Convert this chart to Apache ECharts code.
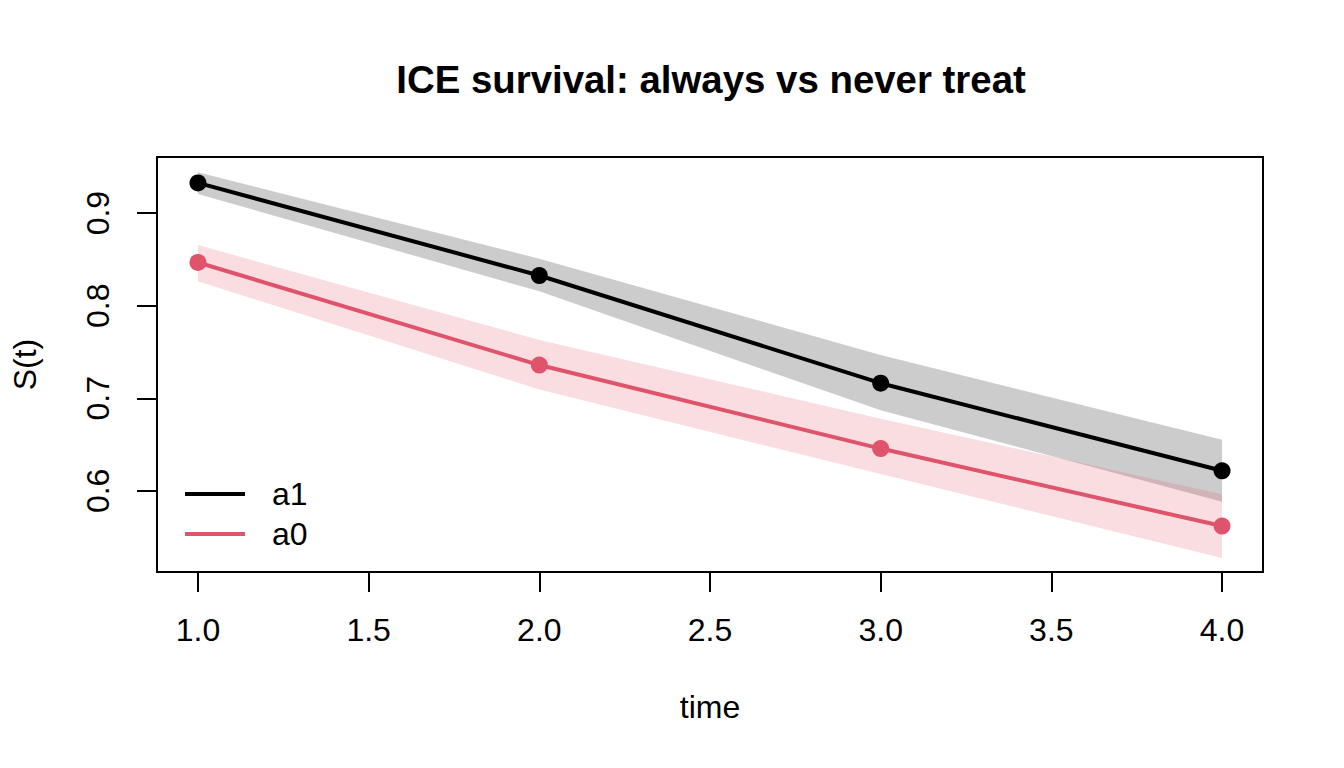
<!DOCTYPE html>
<html>
<head>
<meta charset="utf-8">
<style>
  html, body { margin: 0; padding: 0; background: #fff; }
  #chart { width: 1344px; height: 768px; }
</style>
<script src="https://cdn.jsdelivr.net/npm/echarts@6/dist/echarts.min.js"></script>
</head>
<body>
<div id="chart"></div>
<script>
// time points and survival estimates
const times = [1, 2, 3, 4]
const a1 = [0.9326, 0.8326, 0.7163, 0.6217]
const a1Lower = [0.9207, 0.8155, 0.687, 0.5884]
const a1Upper = [0.9442, 0.8508, 0.7467, 0.6551]
const a0 = [0.8467, 0.7359, 0.6457, 0.562]
const a0Lower = [0.8264, 0.7095, 0.6182, 0.5275]
const a0Upper = [0.8655, 0.763, 0.678, 0.5964]
const xTicks = [1, 1.5, 2, 2.5, 3, 3.5, 4]
const yTicks = [0.6, 0.7, 0.8, 0.9]

const font = 'Liberation Sans'
const red = '#DF536B'

const chart = echarts.init(document.getElementById('chart'), null, { renderer: 'svg' })

// one polygon per band, points mapped through the axes
const bandSeries = (name, lower, upper, fill) => ({
  name: name,
  type: 'custom',
  silent: true,
  z: 1,
  data: times.map((t, i) => [t, lower[i], upper[i]]),
  encode: { x: 0, y: [1, 2] },
  renderItem: (params, api) => {
    if (params.dataIndex !== 0) return null
    const top = times.map((t, i) => api.coord([t, upper[i]]))
    const bottom = times.map((t, i) => api.coord([t, lower[i]])).reverse()
    return {
      type: 'polygon',
      shape: { points: top.concat(bottom) },
      style: { fill: fill, stroke: null }
    }
  }
})

const lineSeries = (name, values, color) => ({
  name: name,
  type: 'line',
  z: 3,
  data: times.map((t, i) => [t, values[i]]),
  symbol: 'circle',
  symbolSize: 17,
  showSymbol: true,
  lineStyle: { color: color, width: 4 },
  itemStyle: { color: color },
  emphasis: { disabled: true }
})

const option = {
  animation: false,
  backgroundColor: '#fff',
  textStyle: { fontFamily: font, color: '#000' },
  title: {
    text: 'ICE survival: always vs never treat',
    left: 706,
    top: 55,
    textAlign: 'center',
    textStyle: { fontFamily: font, fontSize: 38.4, fontWeight: 'bold', color: '#000' }
  },
  grid: {
    left: 157, top: 157, width: 1106, height: 415,
    show: true, borderColor: '#000', borderWidth: 2, backgroundColor: 'transparent'
  },
  legend: {
    orient: 'vertical',
    left: 180,
    top: 469,
    itemWidth: 60,
    itemHeight: 4,
    itemGap: 0,
    icon: 'rect',
    data: [
      { name: 'a1', itemStyle: { color: '#000' } },
      { name: 'a0', itemStyle: { color: red } }
    ],
    textStyle: { fontFamily: font, fontSize: 32, color: '#000', lineHeight: 40, padding: [0, 0, 0, 22] }
  },
  xAxis: {
    type: 'value',
    min: 0.88,
    max: 4.12,
    name: 'time',
    nameLocation: 'middle',
    nameGap: 119,
    nameTextStyle: { fontFamily: font, fontSize: 32, color: '#000' },
    axisLine: { show: false },
    axisTick: { show: true, customValues: xTicks, length: 20, lineStyle: { color: '#000', width: 2 } },
    axisLabel: {
      customValues: xTicks,
      margin: 42,
      fontFamily: font, fontSize: 32, color: '#000',
      formatter: v => v.toFixed(1)
    },
    splitLine: { show: false }
  },
  yAxis: {
    type: 'value',
    min: 0.5124,
    max: 0.9606,
    name: 'S(t)',
    nameLocation: 'middle',
    nameGap: 116,
    nameTextStyle: { fontFamily: font, fontSize: 32, color: '#000' },
    axisLine: { show: false },
    axisTick: { show: true, customValues: yTicks, length: 20, lineStyle: { color: '#000', width: 2 } },
    axisLabel: {
      customValues: yTicks,
      rotate: 90,
      margin: 43,
      fontFamily: font, fontSize: 32, color: '#000',
      formatter: v => v.toFixed(1)
    },
    splitLine: { show: false }
  },
  series: [
    bandSeries('a1 band', a1Lower, a1Upper, 'rgba(0,0,0,0.2)'),
    bandSeries('a0 band', a0Lower, a0Upper, 'rgba(223,83,107,0.2)'),
    lineSeries('a1', a1, '#000'),
    lineSeries('a0', a0, red)
  ]
}

chart.setOption(option)
</script>
</body>
</html>
